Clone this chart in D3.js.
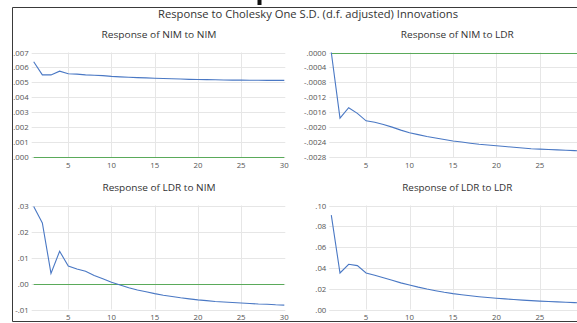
<!DOCTYPE html>
<html><head><meta charset="utf-8">
<script src="https://cdn.jsdelivr.net/npm/d3@7"></script>
<style>html,body{margin:0;padding:0;background:#fff;}svg{display:block;}</style>
</head><body>
<script>
const periods = d3.range(1, 31);
const nimToNim = [.00638,.00550,.00550,.00575,.00558,.00555,.00550,.00548,.00545,.00540,.00537,.00534,.00532,.00530,.00528,.00526,.00524,.00522,.00520,.00519,.00518,.00517,.00516,.00515,.00515,.00514,.00514,.00513,.00513,.00513];
const nimToLdr = [0,-.00176,-.00148,-.00163,-.00183,-.00187,-.00193,-.00200,-.00208,-.00215,-.00220,-.00225,-.00229,-.00233,-.00237,-.00240,-.00243,-.00246,-.00248,-.00250,-.00252,-.00254,-.00256,-.00258,-.00259,-.00260,-.00261,-.00262,-.00263,-.00264];
const ldrToNim = [.0296,.0233,.0039,.0124,.0067,.0056,.0047,.0031,.0018,.0005,-.0006,-.0016,-.0025,-.0032,-.0039,-.0045,-.0050,-.0055,-.0059,-.0063,-.0066,-.0069,-.0071,-.0073,-.0075,-.0077,-.0079,-.0080,-.0082,-.0083];
const ldrToLdr = [.0908,.0351,.0435,.0422,.0351,.0329,.0305,.0282,.0256,.0235,.0215,.0197,.0181,.0166,.0153,.0142,.0132,.0123,.0115,.0108,.0102,.0096,.0090,.0085,.0081,.0077,.0073,.0069,.0066,.0063];
const xTicks = [5, 10, 15, 20, 25, 30];
const yTicksNimNim = [0,.001,.002,.003,.004,.005,.006,.007];
const yTicksNimLdr = [0,-.0004,-.0008,-.0012,-.0016,-.0020,-.0024,-.0028];
const yTicksLdrNim = [-.01,0,.01,.02,.03];
const yTicksLdrLdr = [0,.02,.04,.06,.08,.10];
const mainTitle = "Response to Cholesky One S.D. (d.f. adjusted) Innovations";
const panelTitles = ["Response of NIM to NIM","Response of NIM to LDR","Response of LDR to NIM","Response of LDR to LDR"];

const W = 577, H = 323;
const svg = d3.select("body").append("svg").attr("width", W).attr("height", H);
const FONT = "'Open Sans', sans-serif";

// cut-off heading fragment at top
svg.append("rect").attr("x", 257.5).attr("y", 0).attr("width", 4).attr("height", 5).attr("fill", "#111");

// frame
svg.append("path").attr("d", `M${W+2},7.5 H12.5 V321.5 H${W+2}`).attr("fill","none").attr("stroke","#3a3a3a").attr("stroke-width",1);

svg.append("text").attr("x", 308).attr("y", 18).attr("text-anchor","middle")
  .attr("font-family", FONT).attr("font-size", 10.5).attr("fill","#333")
  .attr("textLength", 300).attr("lengthAdjust","spacingAndGlyphs").text(mainTitle);

const panels = [
  {data: nimToNim, ticks: yTicksNimNim, dom:[0,.007], dec:3, xr:[33.7,284.3], yr:[157,52.5], zero:true, title: panelTitles[0], tw:115},
  {data: nimToLdr, ticks: yTicksNimLdr, dom:[-.0028,0], dec:4, xr:[331.3,583.3], yr:[157,52.5], zero:true, title: panelTitles[1], tw:113},
  {data: ldrToNim, ticks: yTicksLdrNim, dom:[-.01,.03], dec:2, xr:[33.7,284.3], yr:[309.5,205.5], zero:true, title: panelTitles[2], tw:113},
  {data: ldrToLdr, ticks: yTicksLdrLdr, dom:[0,.10], dec:2, xr:[331.3,583.3], yr:[309.5,205.5], zero:false, title: panelTitles[3], tw:110}
];

function fmt(v, dec) {
  let s = Math.abs(v).toFixed(dec).replace(/^0\./, ".");
  return (v < -1e-12 ? "-" : "") + s;
}

panels.forEach(p => {
  const x = d3.scaleLinear().domain([1, 30]).range(p.xr);
  const y = d3.scaleLinear().domain(p.dom).range(p.yr);
  const g = svg.append("g");
  g.selectAll("line.hg").data(p.ticks).join("line")
    .attr("x1", p.xr[0]-2).attr("x2", p.xr[1]+1)
    .attr("y1", d => Math.round(y(d))+0.5).attr("y2", d => Math.round(y(d))+0.5)
    .attr("stroke", "#e6e6e6").attr("stroke-width", 1);
  g.selectAll("line.vg").data(xTicks.filter(t => t < 30)).join("line")
    .attr("x1", d => Math.round(x(d))+0.5).attr("x2", d => Math.round(x(d))+0.5)
    .attr("y1", p.yr[1]).attr("y2", p.yr[0])
    .attr("stroke", "#e6e6e6").attr("stroke-width", 1);
  g.selectAll("text.yl").data(p.ticks).join("text")
    .attr("x", p.xr[0]-5).attr("y", d => y(d)+3)
    .attr("text-anchor","end").attr("font-family", FONT).attr("font-size", 7.8).attr("fill","#555")
    .text(d => fmt(d, p.dec));
  // x tick labels (those that fall inside the window)
  g.selectAll("text.xl").data(xTicks.filter(t => x(t) + 6 < W)).join("text")
    .attr("x", d => x(d)).attr("y", p.yr[0]+10.5)
    .attr("text-anchor","middle").attr("font-family", FONT).attr("font-size", 7.8).attr("fill","#555")
    .text(d => d);
  if (p.zero) {
    g.append("line").attr("x1", p.xr[0]).attr("x2", p.xr[1])
      .attr("y1", Math.round(y(0))+0.5).attr("y2", Math.round(y(0))+0.5)
      .attr("stroke", "#5aaa5a").attr("stroke-width", 1.2);
  }
  const line = d3.line().x((d,i) => x(periods[i])).y(d => y(d));
  g.append("path").datum(p.data).attr("d", line)
    .attr("fill","none").attr("stroke","#4a78c4").attr("stroke-width",1.1);
  g.append("text").attr("x", (p.xr[0]+p.xr[1])/2).attr("y", p.yr[1]-14.5)
    .attr("text-anchor","middle").attr("font-family", FONT).attr("font-size", 9).attr("fill","#333")
    .attr("textLength", p.tw).attr("lengthAdjust","spacingAndGlyphs").text(p.title);
});
</script>
</body></html>
